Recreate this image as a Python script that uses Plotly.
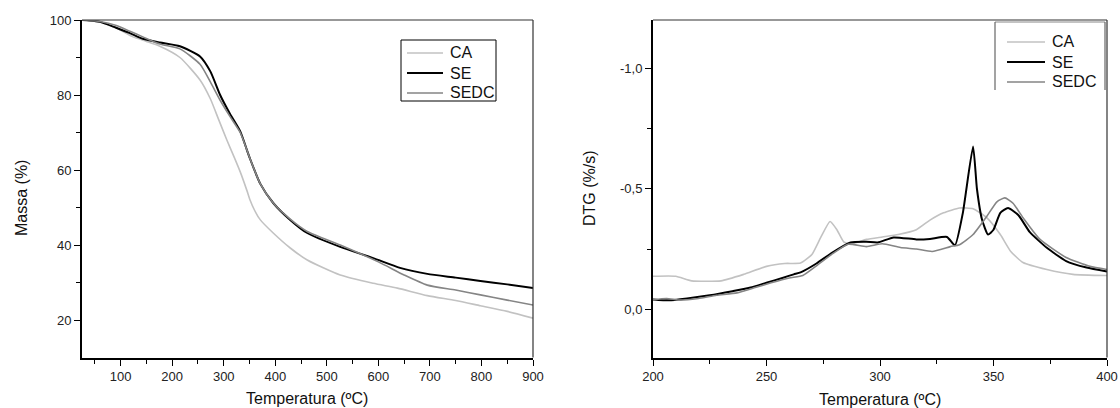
import plotly.graph_objects as go

# TG (massa %) vs temperatura
tg_ca_t = [25, 40, 60, 90, 124, 150, 176, 215, 254, 274, 290, 306, 320, 332, 345, 351, 360, 371, 396, 429, 462, 526, 590, 637, 695, 750, 798, 850, 900]
tg_ca_m = [100, 99.9, 99.4, 98.0, 95.5, 94.3, 93.0, 90.0, 84.0, 79.0, 73.5, 68.0, 63.5, 59.5, 54.5, 52.0, 49.2, 46.7, 43.2, 39.2, 36.0, 32.0, 29.8, 28.5, 26.5, 25.2, 23.8, 22.3, 20.5]

tg_se_t = [25, 40, 60, 90, 118, 143, 176, 215, 254, 274, 293, 312, 332, 345, 351, 371, 396, 429, 462, 526, 590, 642, 695, 750, 798, 850, 900]
tg_se_m = [100, 99.9, 99.5, 98.0, 96.5, 95.0, 94.0, 93.0, 90.3, 86.3, 80.0, 75.0, 70.3, 65.3, 63.0, 56.3, 51.2, 46.7, 43.2, 39.5, 36.5, 33.9, 32.3, 31.3, 30.4, 29.5, 28.5]

tg_sedc_t = [25, 40, 60, 90, 118, 143, 176, 215, 254, 274, 293, 312, 332, 345, 351, 371, 396, 429, 462, 526, 600, 650, 695, 750, 798, 850, 900]
tg_sedc_m = [100, 99.9, 99.6, 98.6, 97.0, 95.5, 93.6, 92.3, 88.2, 83.5, 78.6, 74.3, 70.0, 65.3, 63.0, 56.3, 51.2, 46.9, 43.6, 40.0, 35.5, 32.0, 29.3, 28.0, 26.7, 25.3, 24.0]

# DTG (%/s) vs temperatura
dtg_ca_t = [200, 210, 217, 230, 240, 250, 258, 265, 270, 274, 278, 281, 284, 287, 294, 301, 308, 316, 322, 328, 335, 341, 347, 353, 357.6, 363, 373.5, 385, 400]
dtg_ca_v = [-0.137, -0.137, -0.118, -0.118, -0.145, -0.178, -0.19, -0.192, -0.227, -0.30, -0.364, -0.33, -0.28, -0.27, -0.29, -0.30, -0.31, -0.33, -0.37, -0.40, -0.42, -0.417, -0.38, -0.31, -0.24, -0.194, -0.165, -0.145, -0.14]

dtg_se_t = [200, 207, 215, 225, 235, 243, 250, 257, 262, 265, 272, 279, 287, 294, 299, 306, 316, 322, 329.5, 333, 336.5, 341, 342.7, 345, 347.6, 350, 353, 356.4, 361, 366, 373.5, 382, 391, 400]
dtg_se_v = [-0.041, -0.037, -0.045, -0.058, -0.075, -0.09, -0.11, -0.13, -0.145, -0.153, -0.19, -0.235, -0.277, -0.28, -0.277, -0.298, -0.29, -0.292, -0.30, -0.265, -0.40, -0.675, -0.50, -0.37, -0.31, -0.33, -0.40, -0.42, -0.39, -0.32, -0.255, -0.20, -0.173, -0.157]

dtg_sedc_t = [200, 206, 212, 220, 228, 237, 245, 252, 260, 266, 272, 279, 286, 294, 301, 309, 316, 323, 331, 335, 341, 347, 351.5, 355, 358.6, 363, 370.5, 382, 392.5, 400]
dtg_sedc_v = [-0.04, -0.045, -0.038, -0.045, -0.058, -0.068, -0.09, -0.11, -0.13, -0.14, -0.18, -0.23, -0.27, -0.26, -0.272, -0.256, -0.25, -0.24, -0.26, -0.268, -0.31, -0.385, -0.446, -0.462, -0.44, -0.38, -0.29, -0.215, -0.178, -0.165]

series_names = ["CA", "SE", "SEDC"]
series_colors = ["#c2c2c2", "#000000", "#858585"]
series_widths = [1.6, 2, 1.6]

tg_data = [(tg_ca_t, tg_ca_m), (tg_se_t, tg_se_m), (tg_sedc_t, tg_sedc_m)]
dtg_data = [(dtg_ca_t, dtg_ca_v), (dtg_se_t, dtg_se_v), (dtg_sedc_t, dtg_sedc_v)]

fonte = "Liberation Sans, Arial, sans-serif"

# figura ocupa a janela toda (margem do body zerada no post_script)
W, H = 1120, 408


def px(xs):
    return xs / W


def py(ys):
    return 1 - ys / H


fig = go.Figure()

for nome, cor, lw, (t, m) in zip(series_names, series_colors, series_widths, tg_data):
    fig.add_trace(go.Scatter(
        x=t, y=m, name=nome, mode="lines", showlegend=False,
        line=dict(color=cor, width=lw, shape="spline", smoothing=0.6),
        xaxis="x", yaxis="y"
    ))

for nome, cor, lw, (t, v) in zip(series_names, series_colors, series_widths, dtg_data):
    fig.add_trace(go.Scatter(
        x=t, y=v, name=nome, mode="lines", showlegend=False,
        line=dict(color=cor, width=lw, shape="spline", smoothing=0.5),
        xaxis="x2", yaxis="y2"
    ))

eixo = dict(
    showline=True, linecolor="black", linewidth=2, mirror=False,
    ticks="outside", ticklen=6, tickwidth=1.2, tickcolor="black",
    showgrid=False, zeroline=False, automargin=False,
    tickfont=dict(family=fonte, size=13, color="#222"),
)
menor = dict(ticks="outside", ticklen=4, tickwidth=1.2, tickcolor="black")

fig.update_layout(
    width=W, height=H, autosize=False,
    margin=dict(l=0, r=0, t=0, b=0, pad=0, autoexpand=False),
    paper_bgcolor="white", plot_bgcolor="white",
    font=dict(family=fonte, color="#111"),
    showlegend=False,
    xaxis=dict(eixo, domain=[px(82), px(533)], range=[25, 900],
               tickvals=[100, 200, 300, 400, 500, 600, 700, 800, 900],
               minor=dict(menor, tickvals=[50, 150, 250, 350, 450, 550, 650, 750, 850]),
               anchor="y"),
    yaxis=dict(eixo, domain=[py(357.5), py(20)], range=[10, 100],
               tickvals=[20, 40, 60, 80, 100],
               minor=dict(menor, tickvals=[30, 50, 70, 90]),
               anchor="x"),
    xaxis2=dict(eixo, domain=[px(653), px(1107)], range=[200, 400],
                tickvals=[200, 250, 300, 350, 400],
                minor=dict(menor, tickvals=[225, 275, 325, 375]),
                anchor="y2"),
    yaxis2=dict(eixo, domain=[py(357.5), py(20)], range=[0.2, -1.2],
                tickvals=[-1.0, -0.5, 0.0], ticktext=["-1,0", "-0,5", "0,0"],
                minor=dict(menor, tickvals=[-0.75, -0.25]),
                anchor="x2"),
)

# moldura (topo e direita mais finos)
for xr, yr in [("x domain", "y domain"), ("x2 domain", "y2 domain")]:
    fig.add_shape(type="line", xref=xr, yref=yr, x0=0, x1=1, y0=1, y1=1,
                  line=dict(color="#333", width=1.2))
    fig.add_shape(type="line", xref=xr, yref=yr, x0=1, x1=1, y0=0, y1=1,
                  line=dict(color="#333", width=1.2))

# legendas desenhadas a mao
fig.add_shape(type="rect", xref="paper", yref="paper",
              x0=px(401), x1=px(496), y0=py(101), y1=py(40),
              line=dict(color="black", width=1), fillcolor="white", layer="above")
fig.add_shape(type="line", xref="paper", yref="paper",
              x0=px(995), x1=px(1105), y0=py(22), y1=py(22),
              line=dict(color="#888", width=1), layer="above")
for xl in [995, 1105]:
    fig.add_shape(type="line", xref="paper", yref="paper",
                  x0=px(xl), x1=px(xl), y0=py(90), y1=py(22),
                  line=dict(color="#666", width=1.2), layer="above")

legendas = [
    (407, 443, 448, [53, 73, 93]),
    (1007, 1045, 1050, [42, 62, 82]),
]
for x0, x1, xt, ys in legendas:
    for nome, cor, lw, yy in zip(series_names, series_colors, series_widths, ys):
        fig.add_shape(type="line", xref="paper", yref="paper",
                      x0=px(x0), x1=px(x1), y0=py(yy), y1=py(yy),
                      line=dict(color=cor, width=lw), layer="above")
        fig.add_annotation(text=nome, x=px(xt), y=py(yy), xref="paper", yref="paper",
                           showarrow=False, xanchor="left", yanchor="middle",
                           font=dict(family=fonte, size=16, color="#111"))

titulos = [
    dict(text="Massa (%)", x=21, y=198, textangle=-90),
    dict(text="Temperatura (ºC)", x=307, y=398, textangle=0),
    dict(text="DTG (%/s)", x=590, y=188, textangle=-90),
    dict(text="Temperatura (ºC)", x=880, y=399, textangle=0),
]
for a in titulos:
    fig.add_annotation(
        text=a["text"], x=px(a["x"]), y=py(a["y"]), xref="paper", yref="paper",
        textangle=a["textangle"], showarrow=False,
        xanchor="center", yanchor="middle",
        font=dict(family=fonte, size=16, color="#111"),
    )

fig.write_html("out.html", config={"displayModeBar": False},
               post_script="document.body.style.margin='0';")
